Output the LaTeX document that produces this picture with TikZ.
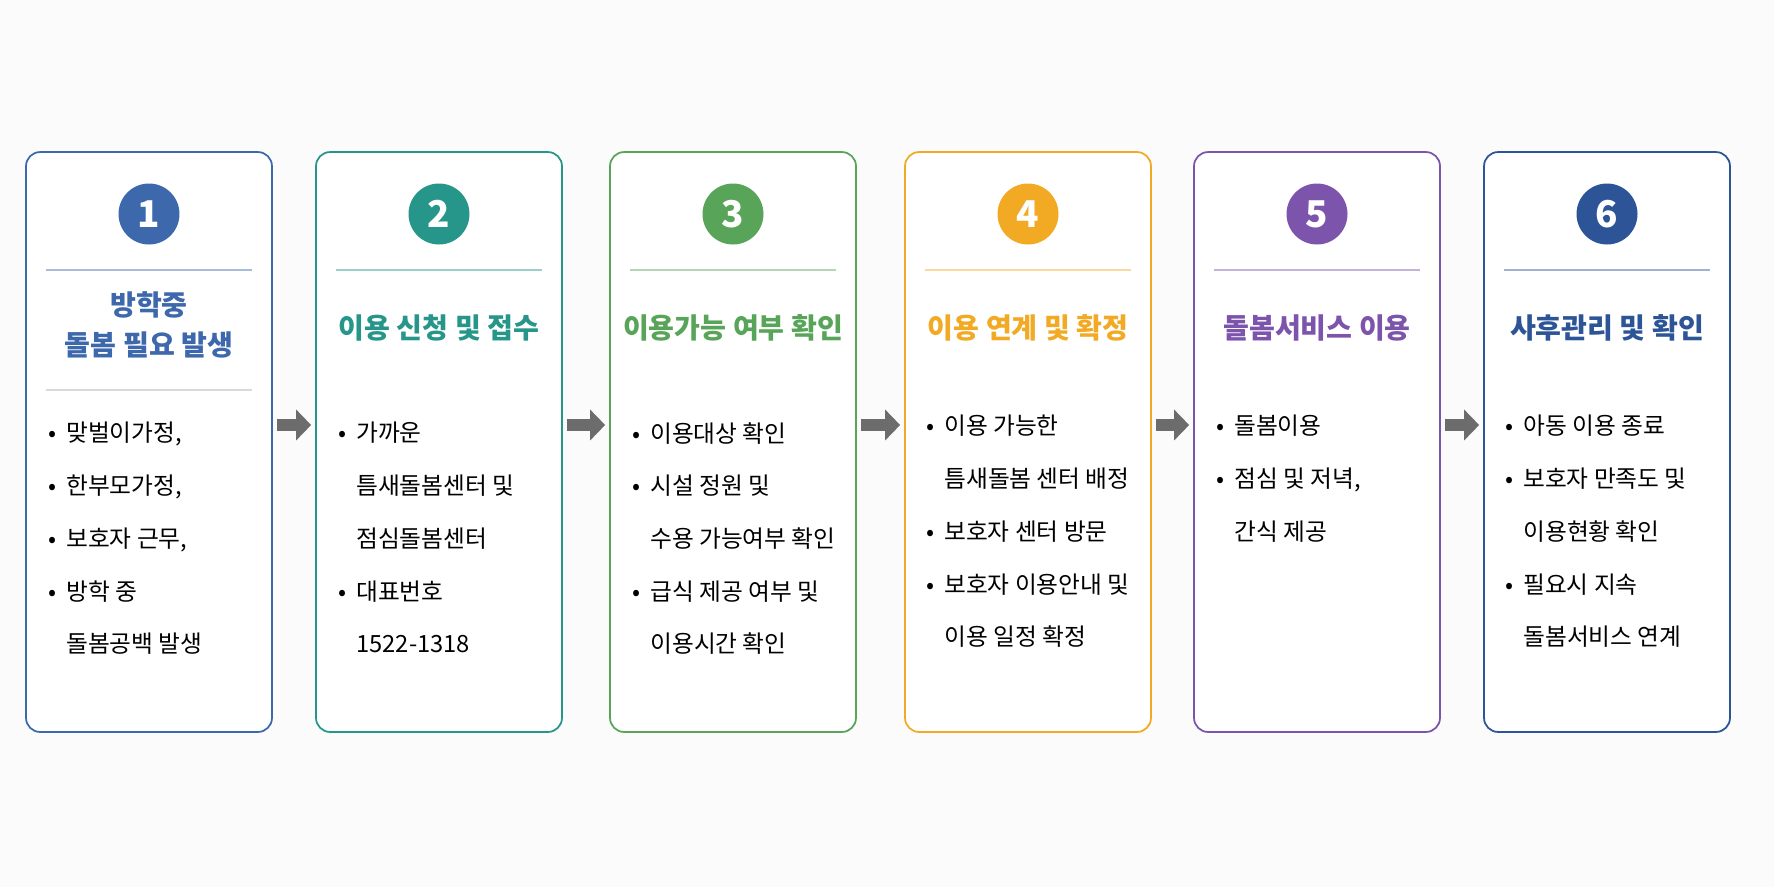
\documentclass[tikz,border=0pt]{standalone}
\usepackage{fontspec}
\setmainfont{Noto Sans CJK KR}
\usetikzlibrary{calc, arrows.meta}
\definecolor{cA}{RGB}{62, 104, 172}
\definecolor{cB}{RGB}{38, 150, 138}
\definecolor{cC}{RGB}{88, 164, 88}
\definecolor{cD}{RGB}{242, 170, 36}
\definecolor{cE}{RGB}{124, 84, 172}
\definecolor{cF}{RGB}{44, 84, 150}

\tikzset{
  box/.style={draw=#1, line width=1pt, rounded corners=8pt, fill=white,
    minimum width=4.92cm, minimum height=11.6cm},
  num/.style={circle, fill=#1, minimum size=1.22cm, inner sep=0pt,
    text=white, font=\fontsize{21}{21}\selectfont\bfseries},
  ttl/.style={text=#1, font=\fontsize{16}{22.5}\selectfont\bfseries, align=center},
  body/.style={anchor=north west, align=left, inner sep=0pt,
    font=\fontsize{13.5}{30}\selectfont},
  flow/.style={-{Triangle[length=0.3cm, width=0.6cm]}, line width=0.24cm, gray!85!black}
}
\newcommand{\bl}{\makebox[0.36cm][l]{•}}
\newcommand{\ind}{\hspace*{0.36cm}}

\begin{document}
\begin{tikzpicture}[x=0.02cm, y=-0.02cm]

\fill[white!97!gray] (0,0) rectangle (1774,887);

\foreach \i/\x/\c in {1/149/cA, 2/439/cB, 3/733/cC, 4/1028/cD, 5/1317/cE, 6/1607/cF} {
  \node[box=\c] (b\i) at (\x, 442) {};
  \node[num=\c] (n\i) at (\x, 214) {\i};
  \draw[\c!45, line width=0.6pt] (\x-103, 270) -- (\x+103, 270);
}

% titles
\node[ttl=cA] (t1) at (149, 325) {방학중\\돌봄 필요 발생};
\draw[gray!30, line width=0.6pt] (46, 390) -- (252, 390);
\node[ttl=cB] (t2) at (439, 328) {이용 신청 및 접수};
\node[ttl=cC] (t3) at (733, 328) {이용가능 여부 확인};
\node[ttl=cD] (t4) at (1028, 328) {이용 연계 및 확정};
\node[ttl=cE] (t5) at (1317, 328) {돌봄서비스 이용};
\node[ttl=cF] (t6) at (1607, 328) {사후관리 및 확인};

% items
\node[body] (l1) at (48, 422) {\bl 맞벌이가정,\\\bl 한부모가정,\\\bl 보호자 근무,\\\bl 방학 중\\\ind 돌봄공백 발생};
\node[body] (l2) at (338, 422) {\bl 가까운\\\ind 틈새돌봄센터 및\\\ind 점심돌봄센터\\\bl 대표번호\\\ind 1522-1318};
\node[body] (l3) at (632, 422) {\bl 이용대상 확인\\\bl 시설 정원 및\\\ind 수용 가능여부 확인\\\bl 급식 제공 여부 및\\\ind 이용시간 확인};
\node[body] (l4) at (926, 415) {\bl 이용 가능한\\\ind 틈새돌봄 센터 배정\\\bl 보호자 센터 방문\\\bl 보호자 이용안내 및\\\ind 이용 일정 확정};
\node[body] (l5) at (1216, 415) {\bl 돌봄이용\\\bl 점심 및 저녁,\\\ind 간식 제공};
\node[body] (l6) at (1505, 415) {\bl 아동 이용 종료\\\bl 보호자 만족도 및\\\ind 이용현황 확인\\\bl 필요시 지속\\\ind 돌봄서비스 연계};

% arrows
\foreach \a/\b in {1/2, 2/3, 3/4, 4/5, 5/6}
  \draw[flow] ($(b\a.east)+(4,-17)$) -- ($(b\b.west)+(-4,-17)$);

\end{tikzpicture}
\end{document}
